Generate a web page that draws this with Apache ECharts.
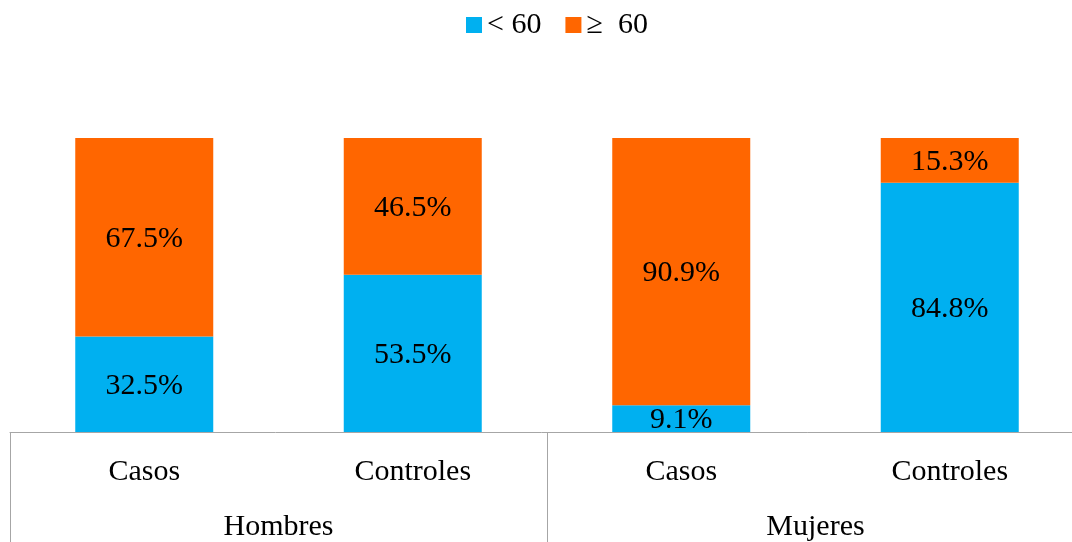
<!DOCTYPE html>
<html>
<head>
<meta charset="utf-8">
<script src="https://cdn.jsdelivr.net/npm/echarts@6/dist/echarts.min.js"></script>
<style>
  html, body { margin: 0; padding: 0; background: #ffffff; }
  #chart { width: 1072px; height: 542px; }
</style>
</head>
<body>
<div id="chart"></div>
<script>
// Age groups by sex: cases vs controls, share of each age band (%)
const categories = ['Casos', 'Controles', 'Casos', 'Controles'];
const groups = ['Hombres', 'Mujeres'];
const seriesNames = ['< 60', '\u2265  60'];
const under60 = [32.5, 53.5, 9.1, 84.8];
const over60 = [67.5, 46.5, 90.9, 15.3];

const FONT = '"Liberation Serif", "Times New Roman", serif';
const FONT_SIZE = 30;
const AXIS_GREY = '#a6a6a6';

const chart = echarts.init(document.getElementById('chart'), null, { renderer: 'canvas' });

const labelStyle = {
  show: true,
  position: 'inside',
  offset: [0, 2],
  color: '#000000',
  fontFamily: FONT,
  fontSize: FONT_SIZE,
  formatter: p => p.value.toFixed(1) + '%'
};

chart.setOption({
  animation: false,
  backgroundColor: '#ffffff',
  legend: {
    top: 5,
    left: 461,
    itemWidth: 16,
    itemHeight: 16,
    itemGap: 24,
    icon: 'rect',
    textStyle: { fontFamily: FONT, fontSize: FONT_SIZE, color: '#000000' },
    data: seriesNames
  },
  grid: { left: 10, top: 138, width: 1074, height: 294, outerBoundsMode: 'none', containLabel: false },
  xAxis: [
    {
      type: 'category',
      data: categories,
      position: 'bottom',
      axisLine: { show: true, lineStyle: { color: AXIS_GREY, width: 1 } },
      axisTick: { show: false },
      axisLabel: { margin: 25, fontFamily: FONT, fontSize: FONT_SIZE, color: '#000000' }
    },
    {
      type: 'category',
      data: groups,
      position: 'bottom',
      axisLine: { show: false },
      axisTick: { show: true, inside: false, length: 112, lineStyle: { color: AXIS_GREY, width: 1 } },
      axisLabel: { margin: 80, fontFamily: FONT, fontSize: FONT_SIZE, color: '#000000' }
    }
  ],
  yAxis: {
    type: 'value',
    min: 0,
    max: 100,
    show: false,
    splitLine: { show: false }
  },
  series: [
    {
      name: seriesNames[0],
      type: 'bar',
      stack: 'total',
      xAxisIndex: 0,
      barWidth: 138,
      itemStyle: { color: '#00b0f0' },
      label: labelStyle,
      data: under60
    },
    {
      name: seriesNames[1],
      type: 'bar',
      stack: 'total',
      xAxisIndex: 0,
      barWidth: 138,
      itemStyle: { color: '#ff6600' },
      label: labelStyle,
      data: over60
    }
  ]
});
</script>
</body>
</html>
